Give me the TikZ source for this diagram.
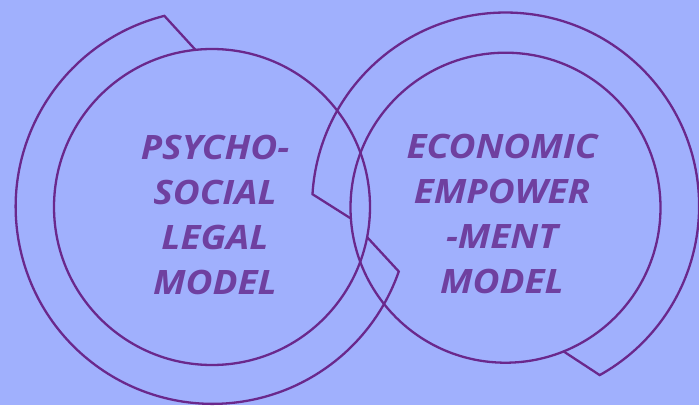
\documentclass[tikz,border=0pt]{standalone}
\usepackage{fontspec}
\setmainfont{Open Sans}
\newfontfamily\labfont[FakeStretch=1.1]{Open Sans}
\definecolor{bgc}{RGB}{160,176,253}
\definecolor{ringc}{RGB}{106,40,140}
\definecolor{textc}{RGB}{111,64,160}
\begin{document}
\begin{tikzpicture}[x=1pt,y=1pt,
  ring/.style={circle, draw=ringc, line width=2.3pt, inner sep=0pt, outer sep=0pt},
  guide/.style={circle, inner sep=0pt, outer sep=0pt},
  band/.style={draw=ringc, line width=2.3pt, line join=miter},
  label/.style={text=textc, align=center, inner sep=0pt,
    font=\labfont\fontsize{33.6}{45}\selectfont\bfseries\itshape}]
\fill[bgc] (0,0) rectangle (699,405);
\useasboundingbox (0,0) rectangle (699,405);
% left ring
\node[ring, minimum size=316pt] (L) at (212,198) {};
\node[guide, minimum size=394pt] (Lo) at (212,198) {};
\draw[band] (L.96.2) -- (Lo.104.2) arc[start angle=104.2, end angle=340.85, radius=197pt] -- (L.-11.7);
% right ring
\node[ring, minimum size=310pt] (R) at (505.5,197.3) {};
\node[guide, minimum size=387pt] (Ro) at (505.5,197.3) {};
\draw[band] (R.184.5) -- (Ro.176.5) arc[start angle=176.5, end angle=-60.9, radius=193.5pt] -- (R.-68.8);
% labels
\node[label] (lt) at (215,190.5) {PSYCHO-\\SOCIAL\\LEGAL\\MODEL};
\node[label] (rt) at (502,190.8) {ECONOMIC\\EMPOWER\\-MENT\\MODEL};
\end{tikzpicture}
\end{document}
